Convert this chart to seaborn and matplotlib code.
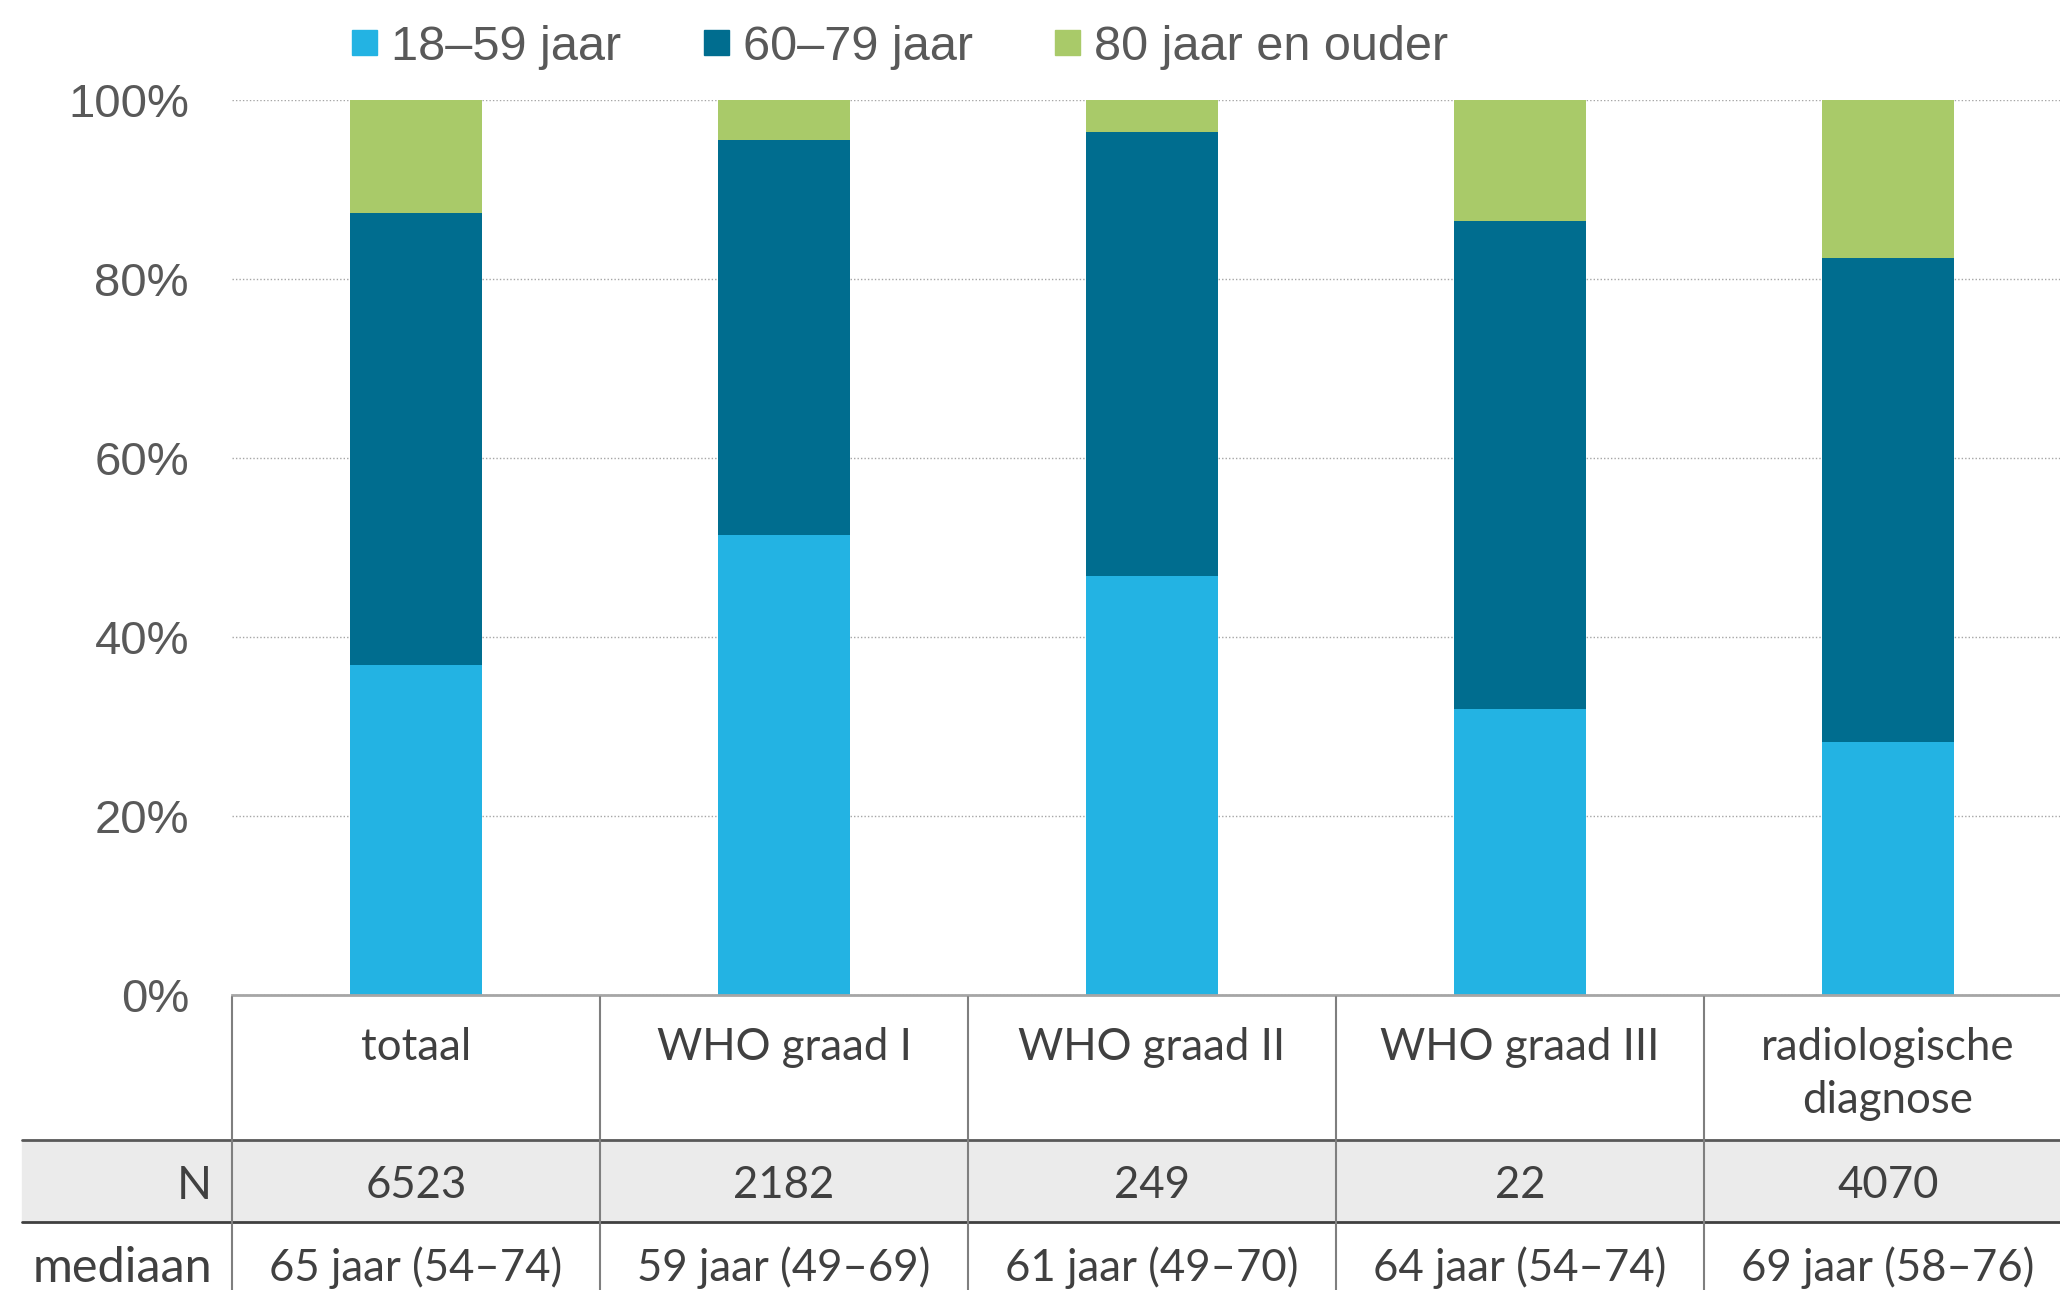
import numpy as np
import pandas as pd
import seaborn as sns
import matplotlib.pyplot as plt
from matplotlib.lines import Line2D
from matplotlib.transforms import blended_transform_factory

# data (percentages per age group)
categories = ["totaal", "WHO graad I", "WHO graad II", "WHO graad III", "radiologische\ndiagnose"]
pct_18_59 = [36.9, 51.4, 46.8, 32.0, 28.3]
pct_60_79 = [50.5, 44.1, 49.6, 54.5, 54.1]
pct_80plus = [12.6, 4.5, 3.6, 13.5, 17.6]
n_values = ["6523", "2182", "249", "22", "4070"]
mediaan = ["65 jaar (54–74)", "59 jaar (49–69)", "61 jaar (49–70)", "64 jaar (54–74)", "69 jaar (58–76)"]
legend_labels = ["18–59 jaar", "60–79 jaar", "80 jaar en ouder"]
yticks = [0, 20, 40, 60, 80, 100]

colors = ["#23b3e3", "#006d8f", "#a9ca69"]

df = pd.DataFrame({"cat": categories, "a": pct_18_59, "b": pct_60_79, "c": pct_80plus})
df["top_b"] = df["a"] + df["b"]  # cumulative for stacking
df["top_c"] = df["top_b"] + df["c"]

sns.set_style("white")
plt.rcParams["font.family"] = ["Liberation Sans", "DejaVu Sans"]

W, H = 2060, 1290
fig = plt.figure(figsize=(W / 100, H / 100), dpi=100)
ax = fig.add_axes([232 / W, (H - 995) / H, 1840 / W, 895 / H])

# stacked bars: draw the totals first, then the lower parts on top
kw = dict(x="cat", width=0.36, saturation=1, errorbar=None, linewidth=0, ax=ax)
sns.barplot(data=df, y="top_c", color=colors[2], **kw)
sns.barplot(data=df, y="top_b", color=colors[1], **kw)
sns.barplot(data=df, y="a", color=colors[0], **kw)

ax.set_xlim(-0.5, 4.5)
ax.set_ylim(0, 100)
ax.set_yticks(yticks)
ax.set_yticklabels([f"{t}%" for t in yticks])
ax.set_xticks([])
ax.set_xlabel("")
ax.set_ylabel("")
ax.tick_params(axis="y", length=0, pad=31, labelsize=34, labelcolor="#595959")
for s in ["top", "right", "left"]:
    ax.spines[s].set_visible(False)
ax.spines["bottom"].set_color("#a6a6a6")
ax.spines["bottom"].set_linewidth(2)
ax.set_axisbelow(True)
ax.yaxis.grid(True, linestyle=(0, (1, 1.5)), color="#a6a6a6", linewidth=1)

# legend on top
handles = [Line2D([], [], marker="s", linestyle="", markersize=18, color=c) for c in colors]
leg = fig.legend(handles, legend_labels, loc="center left", bbox_to_anchor=(352 / W, 1 - 47 / H),
                 ncol=3, frameon=False, fontsize=35, handlelength=0.5, handletextpad=0.3,
                 columnspacing=1.7, borderaxespad=0, borderpad=0)
for t in leg.get_texts():
    t.set_color("#595959")

# table below the bars, in pixel coordinates for y
tab = fig.add_axes([0, 0, 1, 1], facecolor="none")
tab.set_xlim(0, W)
tab.set_ylim(H, 0)
tab.axis("off")
trans = blended_transform_factory(ax.transData, tab.transData)

tab.fill_between([22, W], 1140, 1222, color="#ebebeb", zorder=0)
tab.plot([22, W], [1140, 1140], color="#595959", lw=2)
tab.plot([22, W], [1222, 1222], color="#404040", lw=2)
for b in np.arange(-0.5, 5.0, 1.0):
    tab.plot([b, b], [997, H], color="#7f7f7f", lw=1.5, transform=trans)

tfont = dict(family=["Lato", "DejaVu Sans"], fontsize=31.5, color="#404040")
for i, cat in enumerate(categories):
    tab.text(i, 1027, cat, ha="center", va="top", linespacing=1.35, transform=trans, **tfont)
    tab.text(i, 1186, n_values[i], ha="center", va="center", transform=trans, **tfont)
    tab.text(i, 1268, mediaan[i], ha="center", va="center", transform=trans, **tfont)
tab.text(212, 1186, "N", ha="right", va="center", **{**tfont, "fontsize": 33})
tab.text(212, 1268, "mediaan", ha="right", va="center", **{**tfont, "fontsize": 35})

fig.savefig("out.png", dpi=100)
